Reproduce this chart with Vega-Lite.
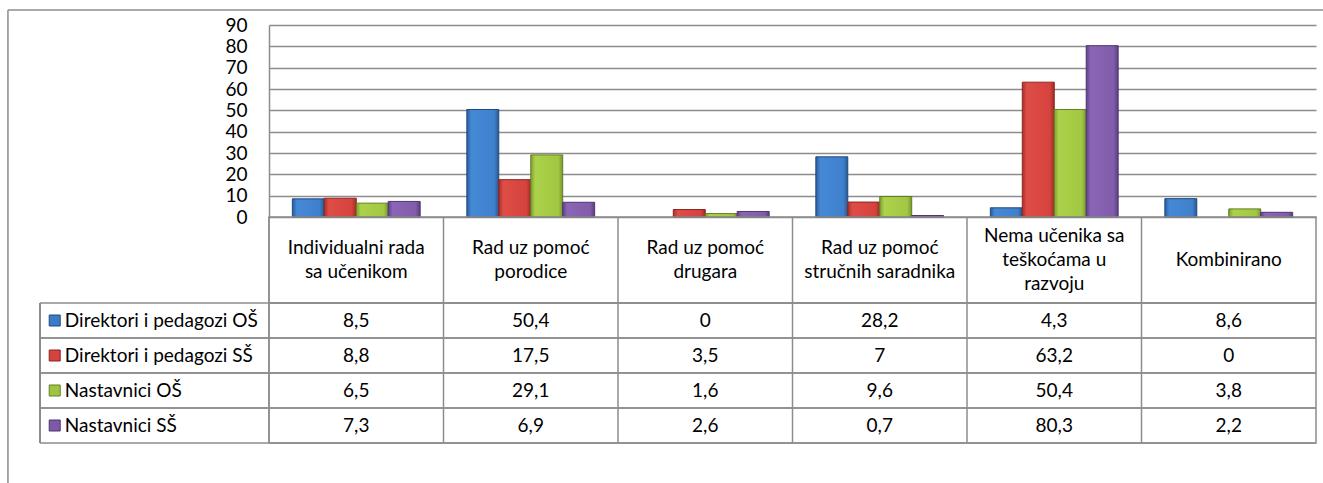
{
  "$schema": "https://vega.github.io/schema/vega-lite/v6.json",
  "padding": {"left": 7, "top": 9, "right": 0, "bottom": 0},
  "spacing": 0,
  "bounds": "flush",
  "datasets": {
    "vals": [
      {"k": "Individualni rada sa učenikom", "series": "Direktori i pedagozi OŠ", "value": 8.5},
      {"k": "Individualni rada sa učenikom", "series": "Direktori i pedagozi SŠ", "value": 8.8},
      {"k": "Individualni rada sa učenikom", "series": "Nastavnici OŠ", "value": 6.5},
      {"k": "Individualni rada sa učenikom", "series": "Nastavnici SŠ", "value": 7.3},
      {"k": "Rad uz pomoć porodice", "series": "Direktori i pedagozi OŠ", "value": 50.4},
      {"k": "Rad uz pomoć porodice", "series": "Direktori i pedagozi SŠ", "value": 17.5},
      {"k": "Rad uz pomoć porodice", "series": "Nastavnici OŠ", "value": 29.1},
      {"k": "Rad uz pomoć porodice", "series": "Nastavnici SŠ", "value": 6.9},
      {"k": "Rad uz pomoć drugara", "series": "Direktori i pedagozi OŠ", "value": 0},
      {"k": "Rad uz pomoć drugara", "series": "Direktori i pedagozi SŠ", "value": 3.5},
      {"k": "Rad uz pomoć drugara", "series": "Nastavnici OŠ", "value": 1.6},
      {"k": "Rad uz pomoć drugara", "series": "Nastavnici SŠ", "value": 2.6},
      {"k": "Rad uz pomoć stručnih saradnika", "series": "Direktori i pedagozi OŠ", "value": 28.2},
      {"k": "Rad uz pomoć stručnih saradnika", "series": "Direktori i pedagozi SŠ", "value": 7},
      {"k": "Rad uz pomoć stručnih saradnika", "series": "Nastavnici OŠ", "value": 9.6},
      {"k": "Rad uz pomoć stručnih saradnika", "series": "Nastavnici SŠ", "value": 0.7},
      {"k": "Nema učenika sa teškoćama u razvoju", "series": "Direktori i pedagozi OŠ", "value": 4.3},
      {"k": "Nema učenika sa teškoćama u razvoju", "series": "Direktori i pedagozi SŠ", "value": 63.2},
      {"k": "Nema učenika sa teškoćama u razvoju", "series": "Nastavnici OŠ", "value": 50.4},
      {"k": "Nema učenika sa teškoćama u razvoju", "series": "Nastavnici SŠ", "value": 80.3},
      {"k": "Kombinirano", "series": "Direktori i pedagozi OŠ", "value": 8.6},
      {"k": "Kombinirano", "series": "Direktori i pedagozi SŠ", "value": 0},
      {"k": "Kombinirano", "series": "Nastavnici OŠ", "value": 3.8},
      {"k": "Kombinirano", "series": "Nastavnici SŠ", "value": 2.2}
    ],
    "cats": [
      {"k": "Individualni rada sa učenikom", "label": "Individualni rada\nsa učenikom"},
      {"k": "Rad uz pomoć porodice", "label": "Rad uz pomoć\nporodice"},
      {"k": "Rad uz pomoć drugara", "label": "Rad uz pomoć\ndrugara"},
      {"k": "Rad uz pomoć stručnih saradnika", "label": "Rad uz pomoć\nstručnih saradnika"},
      {"k": "Nema učenika sa teškoćama u razvoju", "label": "Nema učenika sa\nteškoćama u\nrazvoju"},
      {"k": "Kombinirano", "label": "Kombinirano"}
    ],
    "ser": [
      {"series": "Direktori i pedagozi OŠ"},
      {"series": "Direktori i pedagozi SŠ"},
      {"series": "Nastavnici OŠ"},
      {"series": "Nastavnici SŠ"}
    ]
  },
  "vconcat": [
    {
      "width": 1047,
      "height": 192,
      "view": {"stroke": null},
      "layer": [
        {
          "data": {"name": "vals"},
          "transform": [{"filter": "datum.value > 0"}],
          "encoding": {
            "x": {"field": "k", "type": "nominal", "sort": null, "axis": null, "scale": {"domain": ["Individualni rada sa učenikom", "Rad uz pomoć porodice", "Rad uz pomoć drugara", "Rad uz pomoć stručnih saradnika", "Nema učenika sa teškoćama u razvoju", "Kombinirano"], "paddingInner": 0, "paddingOuter": 0}},
            "xOffset": {"field": "series", "type": "nominal", "sort": null, "scale": {"domain": ["Direktori i pedagozi OŠ", "Direktori i pedagozi SŠ", "Nastavnici OŠ", "Nastavnici SŠ"], "paddingInner": 0, "paddingOuter": 0.73}},
            "y": {
              "field": "value", "type": "quantitative",
              "scale": {"domain": [0, 90], "nice": false},
              "axis": {"values": [0, 10, 20, 30, 40, 50, 60, 70, 80, 90], "title": null, "grid": true, "gridColor": "#8c8c8c", "gridWidth": 1.5, "domainColor": "#8c8c8c", "domainWidth": 1.5, "ticks": false, "labelOverlap": false, "labelFont": "Lato", "labelFontSize": 19, "labelColor": "#000000", "labelPadding": 22}
            }
          },
          "layer": [
            {
              "transform": [{"filter": "datum.series == 'Direktori i pedagozi OŠ'"}],
              "mark": {"type": "bar", "strokeWidth": 1, "stroke": "#1f4a7d",
                "fill": {"gradient": "linear", "x1": 0, "y1": 0, "x2": 1, "y2": 0, "stops": [{"offset": 0, "color": "#2a5c9c"}, {"offset": 0.14, "color": "#4589d6"}, {"offset": 0.86, "color": "#3f80cc"}, {"offset": 1, "color": "#29578f"}]}}
            },
            {
              "transform": [{"filter": "datum.series == 'Direktori i pedagozi SŠ'"}],
              "mark": {"type": "bar", "strokeWidth": 1, "stroke": "#8c2522",
                "fill": {"gradient": "linear", "x1": 0, "y1": 0, "x2": 1, "y2": 0, "stops": [{"offset": 0, "color": "#a8302c"}, {"offset": 0.14, "color": "#df4d47"}, {"offset": 0.86, "color": "#d6433e"}, {"offset": 1, "color": "#9e2c28"}]}}
            },
            {
              "transform": [{"filter": "datum.series == 'Nastavnici OŠ'"}],
              "mark": {"type": "bar", "strokeWidth": 1, "stroke": "#637d26",
                "fill": {"gradient": "linear", "x1": 0, "y1": 0, "x2": 1, "y2": 0, "stops": [{"offset": 0, "color": "#7f9e30"}, {"offset": 0.14, "color": "#acd14a"}, {"offset": 0.86, "color": "#a2c843"}, {"offset": 1, "color": "#779630"}]}}
            },
            {
              "transform": [{"filter": "datum.series == 'Nastavnici SŠ'"}],
              "mark": {"type": "bar", "strokeWidth": 1, "stroke": "#4d3670",
                "fill": {"gradient": "linear", "x1": 0, "y1": 0, "x2": 1, "y2": 0, "stops": [{"offset": 0, "color": "#5f4286"}, {"offset": 0.14, "color": "#8c66b6"}, {"offset": 0.86, "color": "#815cab"}, {"offset": 1, "color": "#5a3e7f"}]}}
            }
          ]
        },
        {
          "data": {"values": [{"frame": "chart area"}]},
          "mark": {"type": "rule", "color": "#8c8c8c", "strokeWidth": 1.5},
          "encoding": {
            "x": {"datum": -1.496, "type": "quantitative", "axis": null, "scale": {"domain": [0, 6], "nice": false, "zero": false}},
            "y": {"datum": 97.0, "type": "quantitative", "axis": null, "scale": {"domain": [0, 90], "nice": false, "zero": false}},
            "y2": {"datum": -125.5}
          }
        },
        {
          "data": {"values": [{"frame": "chart area"}]},
          "mark": {"type": "rule", "color": "#8c8c8c", "strokeWidth": 1.5},
          "encoding": {
            "x": {"datum": -1.496, "type": "quantitative", "axis": null, "scale": {"domain": [0, 6], "nice": false, "zero": false}},
            "x2": {"datum": 6.04},
            "y": {"datum": 97.0, "type": "quantitative", "axis": null, "scale": {"domain": [0, 90], "nice": false, "zero": false}}
          }
        }
      ],
      "resolve": {"scale": {"x": "independent", "y": "independent"}}
    },
    {
      "width": 1047,
      "height": 86,
      "data": {"name": "cats"},
      "layer": [
        {
          "mark": {"type": "rule", "color": "#8c8c8c", "strokeWidth": 1.5},
          "encoding": {"x": {"field": "k", "type": "nominal", "sort": null, "bandPosition": 0, "axis": null, "scale": {"paddingInner": 0, "paddingOuter": 0}}}
        },
        {
          "transform": [{"filter": "length(split(datum.label, '\\n')) == 1"}],
          "mark": {"type": "text", "lineBreak": "\n", "font": "Lato", "fontSize": 19, "lineHeight": 24, "baseline": "middle", "align": "center", "color": "#000000", "dy": 0},
          "encoding": {"x": {"field": "k", "type": "nominal", "sort": null, "axis": null}, "text": {"field": "label"}}
        },
        {
          "transform": [{"filter": "length(split(datum.label, '\\n')) == 2"}],
          "mark": {"type": "text", "lineBreak": "\n", "font": "Lato", "fontSize": 19, "lineHeight": 24, "baseline": "middle", "align": "center", "color": "#000000", "dy": -12},
          "encoding": {"x": {"field": "k", "type": "nominal", "sort": null, "axis": null}, "text": {"field": "label"}}
        },
        {
          "transform": [{"filter": "length(split(datum.label, '\\n')) == 3"}],
          "mark": {"type": "text", "lineBreak": "\n", "font": "Lato", "fontSize": 19, "lineHeight": 24, "baseline": "middle", "align": "center", "color": "#000000", "dy": -24},
          "encoding": {"x": {"field": "k", "type": "nominal", "sort": null, "axis": null}, "text": {"field": "label"}}
        }
      ]
    },
    {
      "width": 1047,
      "height": 140,
      "layer": [
        {
          "data": {"name": "vals"},
          "mark": {"type": "text", "font": "Lato", "fontSize": 19, "baseline": "middle", "align": "center", "color": "#000000"},
          "encoding": {
            "x": {"field": "k", "type": "nominal", "sort": null, "axis": null, "scale": {"paddingInner": 0, "paddingOuter": 0}},
            "y": {"field": "series", "type": "nominal", "sort": null, "axis": null, "scale": {"paddingInner": 0, "paddingOuter": 0}},
            "text": {"field": "value", "type": "quantitative", "format": ".1~f"}
          }
        },
        {
          "data": {"name": "cats"},
          "mark": {"type": "rule", "color": "#8c8c8c", "strokeWidth": 1.5},
          "encoding": {"x": {"field": "k", "type": "nominal", "sort": null, "bandPosition": 0, "axis": null, "scale": {"paddingInner": 0, "paddingOuter": 0}}}
        },
        {
          "data": {"name": "ser"},
          "mark": {"type": "rule", "color": "#8c8c8c", "strokeWidth": 1.5},
          "encoding": {
            "x": {"datum": -1.312, "type": "quantitative", "axis": null, "scale": {"domain": [0, 6], "nice": false, "zero": false}},
            "x2": {"datum": 6},
            "y": {"field": "series", "type": "nominal", "sort": null, "bandPosition": 0, "axis": null}
          }
        },
        {
          "data": {"name": "ser"},
          "mark": {"type": "rule", "color": "#8c8c8c", "strokeWidth": 1.5},
          "encoding": {
            "x": {"datum": -1.312, "type": "quantitative", "axis": null, "scale": {"domain": [0, 6], "nice": false, "zero": false}},
            "x2": {"datum": 6},
            "y": {"field": "series", "type": "nominal", "sort": null, "bandPosition": 1, "axis": null}
          }
        },
        {
          "data": {"name": "ser"},
          "mark": {"type": "rule", "color": "#8c8c8c", "strokeWidth": 1.5},
          "encoding": {
            "x": {"datum": -1.312, "type": "quantitative", "axis": null, "scale": {"domain": [0, 6], "nice": false, "zero": false}}
          }
        },
        {
          "data": {"name": "ser"},
          "mark": {"type": "point", "shape": "square", "filled": true, "size": 121, "strokeWidth": 1, "opacity": 1},
          "encoding": {
            "x": {"datum": -1.228, "type": "quantitative", "axis": null, "scale": {"domain": [0, 6], "nice": false, "zero": false}},
            "y": {"field": "series", "type": "nominal", "sort": null, "axis": null},
            "fill": {"field": "series", "type": "nominal", "sort": null, "legend": null,
              "scale": {"domain": ["Direktori i pedagozi OŠ", "Direktori i pedagozi SŠ", "Nastavnici OŠ", "Nastavnici SŠ"], "range": ["#3c7bc6", "#d4433e", "#9fc540", "#7e59a8"]}},
            "stroke": {"field": "series", "type": "nominal", "sort": null, "legend": null,
              "scale": {"domain": ["Direktori i pedagozi OŠ", "Direktori i pedagozi SŠ", "Nastavnici OŠ", "Nastavnici SŠ"], "range": ["#1f4a7d", "#8c2522", "#637d26", "#4d3670"]}}
          }
        },
        {
          "data": {"name": "ser"},
          "mark": {"type": "text", "font": "Lato", "fontSize": 19, "baseline": "middle", "align": "left", "color": "#000000"},
          "encoding": {
            "x": {"datum": -1.17, "type": "quantitative", "axis": null, "scale": {"domain": [0, 6], "nice": false, "zero": false}},
            "y": {"field": "series", "type": "nominal", "sort": null, "axis": null},
            "text": {"field": "series"}
          }
        }
      ],
      "resolve": {"scale": {"x": "independent"}}
    }
  ],
  "resolve": {"scale": {"x": "independent", "y": "independent", "color": "independent", "stroke": "independent", "fill": "independent"}},
  "config": {
    "view": {"stroke": "#8c8c8c", "strokeWidth": 1.5},
    "locale": {"number": {"decimal": ",", "thousands": ".", "grouping": [3], "currency": ["", ""]}}
  }
}
